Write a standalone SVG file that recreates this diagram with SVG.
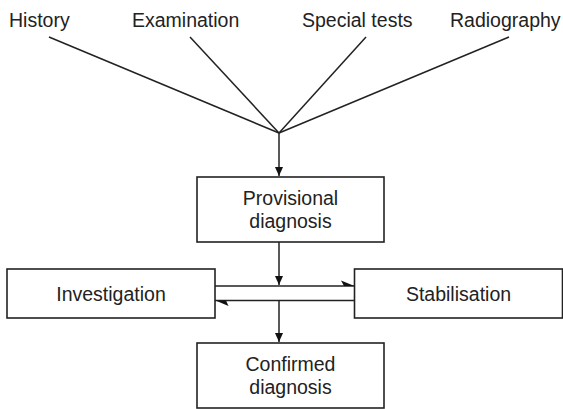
<svg xmlns="http://www.w3.org/2000/svg" width="563" height="409" viewBox="0 0 563 409">
<style>
.box{fill:#fff;stroke:#222;stroke-width:1.6}
.ln{fill:none;stroke:#222;stroke-width:1.5}
.t{font-family:"Liberation Sans",Arial,sans-serif;font-size:19.5px;fill:#222;text-anchor:middle}
.tl{font-family:"Liberation Sans",Arial,sans-serif;font-size:19.5px;fill:#222}
.hd{fill:#111}
</style>
<defs>
<marker id="arr" markerWidth="10" markerHeight="10" refX="9" refY="5" orient="auto" markerUnits="userSpaceOnUse">
<path d="M0,1 L9,5 L0,9 Z" class="hd"/>
</marker>
</defs>
<rect width="563" height="409" fill="#fff"/>
<g id="history"><text class="tl" x="9" y="27">History</text></g>
<g id="examination"><text class="tl" x="132" y="27">Examination</text></g>
<g id="special-tests"><text class="tl" x="302" y="27">Special tests</text></g>
<g id="radiography"><text class="tl" x="450" y="27">Radiography</text></g>
<g id="provisional">
<rect class="box" x="197" y="177" width="187" height="65"/>
<text class="t" x="290.5" y="205">Provisional</text>
<text class="t" x="290.5" y="228">diagnosis</text>
</g>
<g id="investigation">
<rect class="box" x="7" y="269" width="208" height="49"/>
<text class="t" x="111" y="301">Investigation</text>
</g>
<g id="stabilisation">
<rect class="box" x="354.5" y="269" width="208" height="49"/>
<text class="t" x="458.5" y="301">Stabilisation</text>
</g>
<g id="confirmed">
<rect class="box" x="197" y="343" width="187" height="65"/>
<text class="t" x="290.5" y="371">Confirmed</text>
<text class="t" x="290.5" y="394">diagnosis</text>
</g>
<g id="connectors">
<line class="ln" x1="49" y1="37" x2="279" y2="133"/>
<line class="ln" x1="190" y1="37" x2="279" y2="133"/>
<line class="ln" x1="366" y1="37" x2="279" y2="133"/>
<line class="ln" x1="509" y1="37" x2="279" y2="133"/>
<line class="ln" x1="279" y1="133" x2="279" y2="176" marker-end="url(#arr)"/>
<line class="ln" x1="279" y1="242" x2="279" y2="285" marker-end="url(#arr)"/>
<line class="ln" x1="215" y1="286" x2="354.5" y2="286"/>
<path class="hd" d="M354.5,286 L341,280.5 L344,286 Z"/>
<line class="ln" x1="215" y1="300.5" x2="354.5" y2="300.5"/>
<path class="hd" d="M215.5,300.5 L228.5,306 L226,300.5 Z"/>
<line class="ln" x1="279" y1="300.5" x2="279" y2="342" marker-end="url(#arr)"/>
</g>
</svg>
